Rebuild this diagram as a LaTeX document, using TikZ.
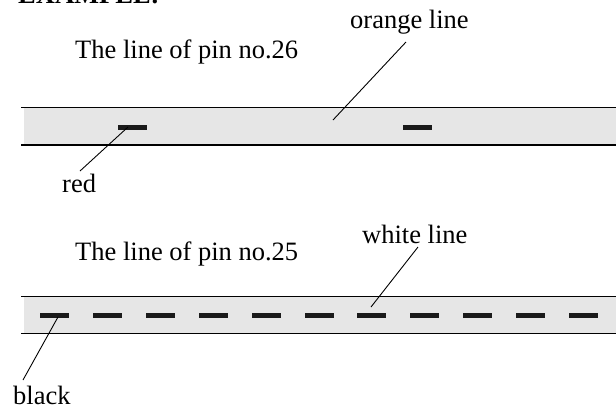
\documentclass[tikz,border=0pt]{standalone}
\usepackage{fontspec}
\setmainfont{Liberation Serif}
\definecolor{bandgrey}{HTML}{E6E6E6}
\definecolor{dashblack}{HTML}{1A1A1A}
\begin{document}
\begin{tikzpicture}[x=1pt,y=-1pt,
  lbl/.style={font=\fontsize{26.5}{30}\selectfont, inner sep=0pt, anchor=base west},
  bandfill/.style={fill=bandgrey, draw=none},
  edgeline/.style={line width=1.3pt, draw=black},
  pindash/.style={fill=dashblack, draw=none, minimum width=29pt, minimum height=5pt, inner sep=0pt, outer sep=0pt},
  leader/.style={line width=0.9pt, draw=black}]
\useasboundingbox (0,0) rectangle (616,408);
\clip (0,0) rectangle (616,408);

% cut-off heading
\node[lbl, font=\fontsize{26.5}{30}\selectfont\bfseries] (head) at (18,3) {EXAMPLE:};

% ---- upper band: pin no.26 ----
\fill[bandfill] (24,107.5) rectangle (616,145);
\draw[edgeline] (21,107.5) -- (616,107.5);
\draw[edgeline] (21,145) -- (616,145);
\node[pindash] (r1) at (132,127) {};
\node[pindash] (r2) at (417.5,127) {};

\node[lbl] (t26) at (75,58) {The line of pin no.26};
\node[lbl] (orange) at (350,28) {orange line};
\node[lbl] (red) at (62,192) {red};

\coordinate (oa) at (406,42);
\coordinate (ob) at (333,120);
\draw[leader] (oa) -- (ob);
\coordinate (ra) at (128,127);
\coordinate (rb) at (80,171);
\draw[leader] (ra) -- (rb);

% ---- lower band: pin no.25 ----
\fill[bandfill] (24,296.7) rectangle (616,333.5);
\draw[edgeline] (21,296.7) -- (616,296.7);
\draw[edgeline] (21,333.5) -- (616,333.5);
\foreach \i in {0,...,10}
  \node[pindash] (d\i) at ({54.5+52.9*\i},315.8) {};

\node[lbl] (t25) at (75,260) {The line of pin no.25};
\node[lbl] (white) at (362,243) {white line};
\node[lbl] (black) at (13,404) {black};

\coordinate (wa) at (418,247);
\coordinate (wb) at (371,307);
\draw[leader] (wa) -- (wb);
\coordinate (ba) at (58,317);
\coordinate (bb) at (23,380);
\draw[leader] (ba) -- (bb);
\end{tikzpicture}
\end{document}
